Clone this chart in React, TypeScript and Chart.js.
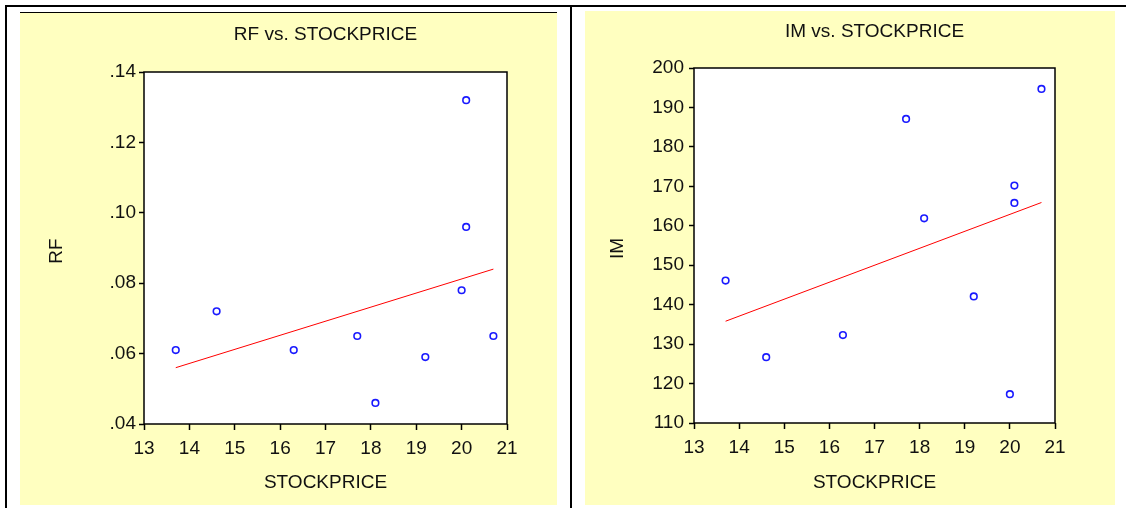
import React, { useEffect, useRef } from 'react';
import { Chart, registerables } from 'chart.js';

Chart.register(...registerables);

// ---- Data ----
const stockPrice = [13.7, 14.6, 16.3, 17.7, 18.1, 19.2, 20.0, 20.1, 20.1, 20.7];
const rfValues = [0.061, 0.072, 0.061, 0.065, 0.046, 0.059, 0.078, 0.096, 0.132, 0.065];
const imValues = [146.1, 126.7, 132.3, 187.1, 161.9, 142.1, 117.3, 165.8, 170.2, 194.7];

const fitX = [13.7, 20.7];
const rfFit = [0.056, 0.084];
const imFit = [135.8, 165.9];

const xTicks = [13, 14, 15, 16, 17, 18, 19, 20, 21];
const rfTicks = [0.04, 0.06, 0.08, 0.1, 0.12, 0.14];
const rfTickLabels = ['.04', '.06', '.08', '.10', '.12', '.14'];
const imTicks = [110, 120, 130, 140, 150, 160, 170, 180, 190, 200];
const imTickLabels = ['110', '120', '130', '140', '150', '160', '170', '180', '190', '200'];

const YELLOW = '#FFFFC0';
const FONT = '"Liberation Sans", Arial, Helvetica, sans-serif';
const TEXT = '#111111';

const panelPlugin = {
  id: 'panelDeco',
  beforeDatasetsDraw(chart: any) {
    const { ctx, chartArea: a } = chart;
    ctx.save();
    ctx.fillStyle = '#ffffff';
    ctx.fillRect(a.left, a.top, a.right - a.left, a.bottom - a.top);
    ctx.restore();
  },
  afterDraw(chart: any, _args: any, opts: any) {
    const { ctx, chartArea: a } = chart;
    ctx.save();
    ctx.strokeStyle = '#000000';
    ctx.lineWidth = 1.5;
    ctx.strokeRect(a.left, a.top, a.right - a.left, a.bottom - a.top);
    ctx.fillStyle = TEXT;
    ctx.textAlign = 'center';
    ctx.textBaseline = 'middle';
    const cx = (a.left + a.right) / 2;
    ctx.font = `${opts.titleSize}px ${FONT}`;
    ctx.fillText(opts.title, cx, opts.titleY);
    ctx.font = `${opts.axisSize}px ${FONT}`;
    ctx.fillText(opts.xTitle, cx, opts.xTitleY);
    ctx.translate(opts.yTitleX, (a.top + a.bottom) / 2 + 3);
    ctx.rotate(-Math.PI / 2);
    ctx.fillText(opts.yTitle, 0, 0);
    ctx.restore();
  },
};

type PanelProps = {
  left: number;
  top: number;
  width: number;
  height: number;
  title: string;
  yTitle: string;
  xTitle: string;
  xs: number[];
  ys: number[];
  fitYs: number[];
  yMin: number;
  yMax: number;
  yTicks: number[];
  yTickLabels: string[];
  padTop: number;
  padRight: number;
  yWidth: number;
  xHeight: number;
  titleY: number;
  xTitleY: number;
  yTitleX: number;
  yPad: number;
};

function ScatterPanel(p: PanelProps) {
  const ref = useRef<HTMLCanvasElement>(null);
  useEffect(() => {
    if (!ref.current) return;
    const points = p.xs.map((x, i) => ({ x, y: p.ys[i] }));
    const fit = fitX.map((x, i) => ({ x, y: p.fitYs[i] }));
    const chart = new Chart(ref.current, {
      type: 'scatter',
      data: {
        datasets: [
          {
            label: 'fit',
            data: fit,
            showLine: true,
            borderColor: '#ff0000',
            borderWidth: 1,
            pointRadius: 0,
            fill: false,
            order: 2,
          } as any,
          {
            label: p.yTitle,
            data: points,
            pointStyle: 'circle',
            pointRadius: 3.3,
            pointBorderWidth: 1.6,
            borderColor: '#1a1aff',
            backgroundColor: 'rgba(0,0,0,0)',
            pointBackgroundColor: 'rgba(0,0,0,0)',
            pointBorderColor: '#1a1aff',
            order: 1,
          } as any,
        ],
      },
      options: {
        responsive: false,
        animation: false,
        devicePixelRatio: 1,
        layout: { padding: { top: p.padTop, right: p.padRight, left: 0, bottom: 0 } },
        plugins: {
          legend: { display: false },
          tooltip: { enabled: false },
          title: { display: false },
          panelDeco: {
            title: p.title,
            xTitle: p.xTitle,
            yTitle: p.yTitle,
            titleSize: 19,
            axisSize: 19,
            titleY: p.titleY,
            xTitleY: p.xTitleY,
            yTitleX: p.yTitleX,
          },
        } as any,
        scales: {
          x: {
            type: 'linear',
            min: 13,
            max: 21,
            afterBuildTicks: (s: any) => {
              s.ticks = xTicks.map((v) => ({ value: v }));
            },
            afterFit: (s: any) => {
              s.height = p.xHeight;
            },
            border: { display: false },
            grid: {
              drawOnChartArea: false,
              drawTicks: true,
              tickLength: 6,
              tickWidth: 1.5,
              tickColor: '#000',
            },
            ticks: {
              autoSkip: false,
              maxRotation: 0,
              padding: 7,
              color: TEXT,
              font: { family: FONT, size: 19 },
              callback: (v: any) => String(v),
            },
          },
          y: {
            type: 'linear',
            min: p.yMin,
            max: p.yMax,
            afterBuildTicks: (s: any) => {
              s.ticks = p.yTicks.map((v) => ({ value: v }));
            },
            afterFit: (s: any) => {
              s.width = p.yWidth;
            },
            border: { display: false },
            grid: {
              drawOnChartArea: false,
              drawTicks: true,
              tickLength: 5,
              tickWidth: 1.5,
              tickColor: '#000',
            },
            ticks: {
              autoSkip: false,
              padding: p.yPad,
              color: TEXT,
              font: { family: FONT, size: 19 },
              callback: (v: any) => {
                const idx = p.yTicks.findIndex((t) => Math.abs(t - Number(v)) < 1e-9);
                return idx >= 0 ? p.yTickLabels[idx] : '';
              },
            },
          },
        },
      } as any,
      plugins: [panelPlugin as any],
    });
    return () => chart.destroy();
  }, []);
  return (
    <div
      style={{
        position: 'absolute',
        left: p.left,
        top: p.top,
        width: p.width,
        height: p.height,
        background: YELLOW,
      }}
    >
      <canvas
        ref={ref}
        width={p.width}
        height={p.height}
        style={{ display: 'block', width: p.width, height: p.height }}
      />
    </div>
  );
}

export default function App() {
  const line = (left: number, top: number, width: number, height: number) => (
    <div style={{ position: 'absolute', left, top, width, height, background: '#000' }} />
  );
  return (
    <div
      style={{
        position: 'fixed',
        left: 0,
        top: 0,
        width: 1126,
        height: 508,
        background: '#ffffff',
        overflow: 'hidden',
      }}
    >
      {line(5, 5, 1121, 2)}
      {line(5, 5, 2, 503)}
      {line(570, 5, 2, 503)}
      {line(20, 12, 537, 1)}
      <ScatterPanel
        left={20}
        top={13}
        width={537}
        height={492}
        title="RF vs. STOCKPRICE"
        yTitle="RF"
        xTitle="STOCKPRICE"
        xs={stockPrice}
        ys={rfValues}
        fitYs={rfFit}
        yMin={0.04}
        yMax={0.14}
        yTicks={rfTicks}
        yTickLabels={rfTickLabels}
        padTop={59}
        padRight={50}
        yWidth={124}
        xHeight={81}
        titleY={22}
        xTitleY={470}
        yTitleX={37}
        yPad={3}
      />
      <ScatterPanel
        left={585}
        top={11}
        width={530}
        height={494}
        title="IM vs. STOCKPRICE"
        yTitle="IM"
        xTitle="STOCKPRICE"
        xs={stockPrice}
        ys={imValues}
        fitYs={imFit}
        yMin={110}
        yMax={200}
        yTicks={imTicks}
        yTickLabels={imTickLabels}
        padTop={57}
        padRight={60}
        yWidth={109}
        xHeight={82}
        titleY={21}
        xTitleY={472}
        yTitleX={33}
        yPad={5}
      />
    </div>
  );
}
